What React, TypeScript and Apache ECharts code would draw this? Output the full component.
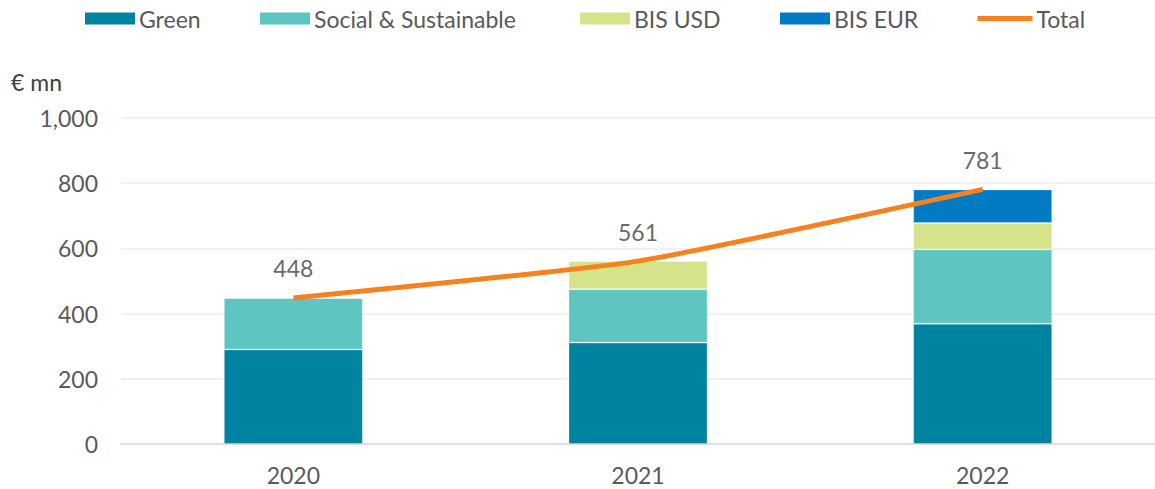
import React, { useEffect, useRef } from "react";
import * as echarts from "echarts";

const categories = ["2020", "2021", "2022"];
const green = [290, 311, 369];
const socialSustainable = [158, 164, 228];
const bisUsd = [0, 86, 81];
const bisEur = [0, 0, 103];
const total = [448, 561, 781];
const yTicks = [0, 200, 400, 600, 800, 1000];
const legendNames = ["Green", "Social & Sustainable", "BIS USD", "BIS EUR", "Total"];

const FONT = "Lato, 'Open Sans', sans-serif";

export default function App() {
  const ref = useRef<HTMLDivElement>(null);
  useEffect(() => {
    document.body.style.margin = "0";
    const chart = echarts.init(ref.current!, null, { renderer: "svg" });
    const barStyle = (color: string) => ({
      color,
      borderColor: "rgba(255,255,255,0.25)",
      borderWidth: 1,
    });
    const legendLefts = [85, 260, 580, 780, 975];
    const legends = legendNames.map((name, i) => ({
      left: legendLefts[i],
      top: 7,
      padding: 0,
      itemWidth: name === "Total" ? 55 : 50,
      itemHeight: 12,
      itemGap: 0,
      textStyle: { fontSize: 23, color: "#595959", fontFamily: FONT, padding: [0, 0, 0, -1] },
      data: [
        name === "Total"
          ? { name, itemStyle: { opacity: 0 }, lineStyle: { width: 5, color: "#F5821F" } }
          : { name, icon: "rect", itemStyle: { borderWidth: 0 } },
      ],
    }));
    chart.setOption({
      animation: false,
      textStyle: { fontFamily: FONT },
      legend: legends,
      graphic: [
        {
          type: "text",
          left: 11,
          top: 70,
          style: { text: "€ mn", fontSize: 23, fill: "#404040", fontFamily: FONT },
        },
      ],
      grid: { left: 121, right: -7, top: 118, bottom: 45 },
      xAxis: {
        type: "category",
        data: categories,
        axisTick: { show: false },
        axisLine: { lineStyle: { color: "#d9d9d9", width: 1.5 } },
        axisLabel: { fontSize: 23, color: "#595959", margin: 19, fontFamily: FONT },
      },
      yAxis: {
        type: "value",
        min: yTicks[0],
        max: yTicks[yTicks.length - 1],
        interval: 200,
        axisLine: { show: false },
        axisTick: { show: false },
        splitLine: { lineStyle: { color: "#ececec", width: 1.5 } },
        axisLabel: {
          fontSize: 23,
          color: "#595959",
          margin: 23,
          fontFamily: FONT,
          formatter: (v: number) => v.toLocaleString("en-US"),
        },
      },
      series: [
        { name: "Green", type: "bar", stack: "s", barWidth: 139, data: green, itemStyle: barStyle("#0083A0") },
        { name: "Social & Sustainable", type: "bar", stack: "s", data: socialSustainable, itemStyle: barStyle("#5FC5C1") },
        { name: "BIS USD", type: "bar", stack: "s", data: bisUsd, itemStyle: barStyle("#D5E38A") },
        { name: "BIS EUR", type: "bar", stack: "s", data: bisEur, itemStyle: barStyle("#007BC3") },
        {
          name: "Total",
          type: "line",
          data: total,
          smooth: 0.15,
          symbol: "none",
          lineStyle: { color: "#F5821F", width: 5 },
          itemStyle: { color: "#F5821F" },
          z: 5,
        },
        {
          name: "TotalLabels",
          type: "scatter",
          data: total,
          symbolSize: 0,
          silent: true,
          label: {
            show: true,
            position: "top",
            distance: 18,
            fontSize: 23,
            color: "#404040",
            fontFamily: FONT,
          },
          z: 6,
        },
      ],
    });
    return () => chart.dispose();
  }, []);
  return <div ref={ref} style={{ width: 1155, height: 489 }} />;
}
